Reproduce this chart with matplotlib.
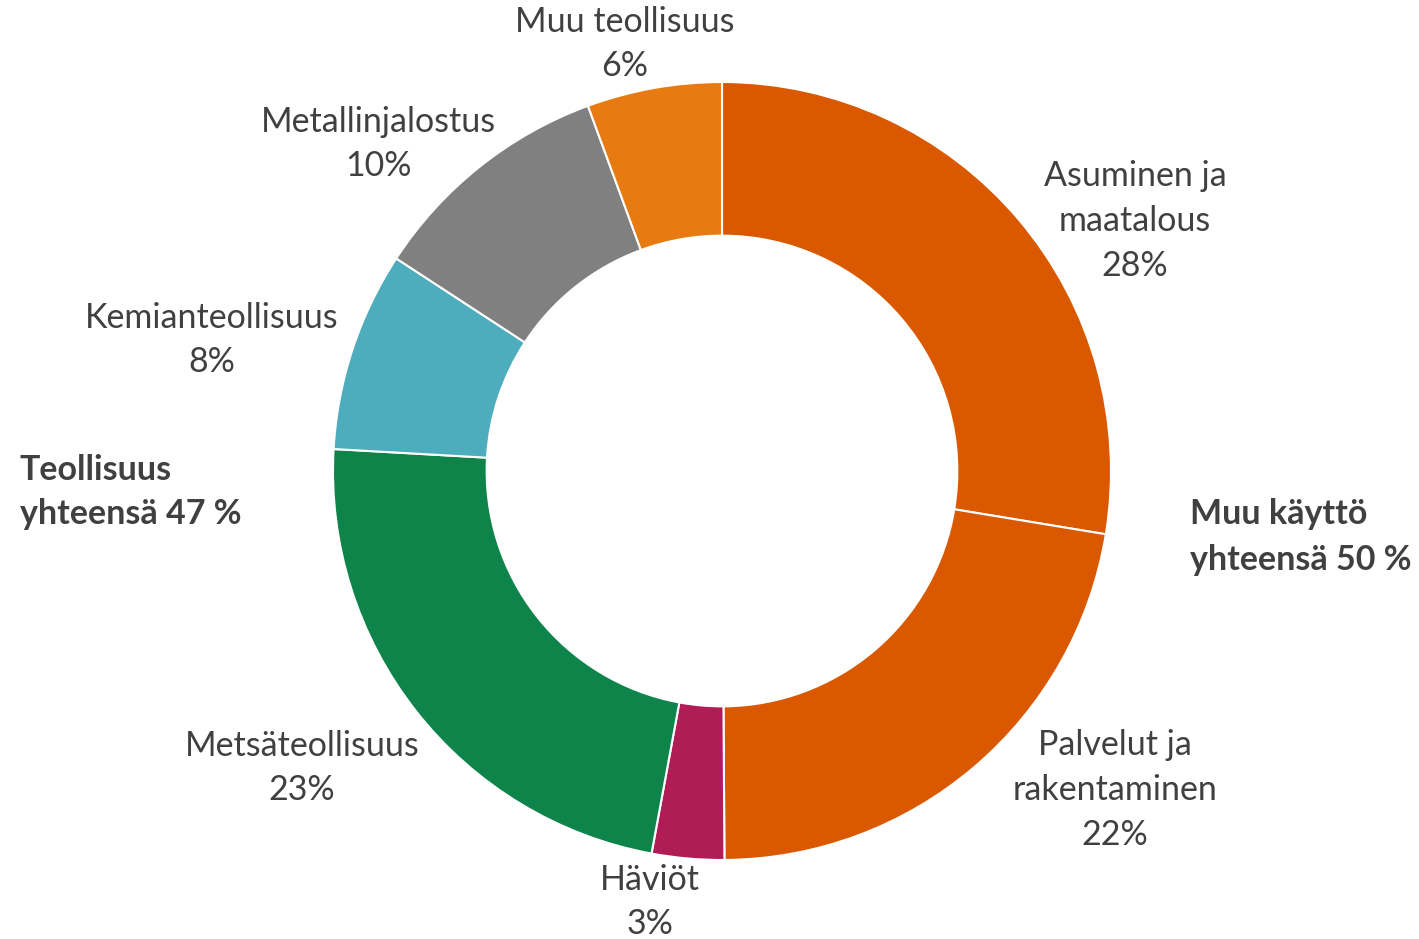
import matplotlib.pyplot as plt

plt.rcParams['font.family'] = ['Lato', 'DejaVu Sans']

# osuudet myötäpäivään ylhäältä alkaen
nimet = ['Asuminen ja\nmaatalous', 'Palvelut ja\nrakentaminen', 'Häviöt',
         'Metsäteollisuus', 'Kemianteollisuus', 'Metallinjalostus', 'Muu teollisuus']
osuudet = [27.6, 22.3, 3.0, 23.0, 8.3, 10.2, 5.6]
prosentit = ['28%', '22%', '3%', '23%', '8%', '10%', '6%']
varit = ['#DA5900', '#DA5900', '#B01C56', '#0E844A', '#4DADBD', '#808080', '#E87A12']

yhteensa = ['Muu käyttö\nyhteensä 50 %', 'Teollisuus\nyhteensä 47 %']

# label positions in pixels (x, y from top)
label_pos = [(1135, 221), (1115, 790), (650, 902), (302, 768),
             (212, 340), (378, 144), (625, 44)]
summa_pos = [(1190, 537), (20, 492)]

W, H = 1419, 939
fig = plt.figure(figsize=(W / 100, H / 100), dpi=100)
ax = fig.add_axes([0, 0, 1, 1])

cx, cy, r = 722, H - 471, 389
ax.pie(osuudet, colors=varit, startangle=90, counterclock=False,
       center=(cx, cy), radius=r, frame=True,
       wedgeprops=dict(width=r * 0.395, edgecolor='white', linewidth=1.5))
ax.set_xlim(0, W)
ax.set_ylim(0, H)
ax.set_aspect('equal')
ax.axis('off')

txt = '#404040'
for nimi, p, (x, y) in zip(nimet, prosentit, label_pos):
    ax.text(x, H - y, nimi + '\n' + p, ha='center', va='center', fontsize=24.5,
            color=txt, linespacing=1.5)

for s, (x, y) in zip(yhteensa, summa_pos):
    ax.text(x, H - y, s, ha='left', va='center', fontsize=24.5, fontweight='bold',
            color=txt, linespacing=1.5)

fig.savefig('out.png', dpi=100)
